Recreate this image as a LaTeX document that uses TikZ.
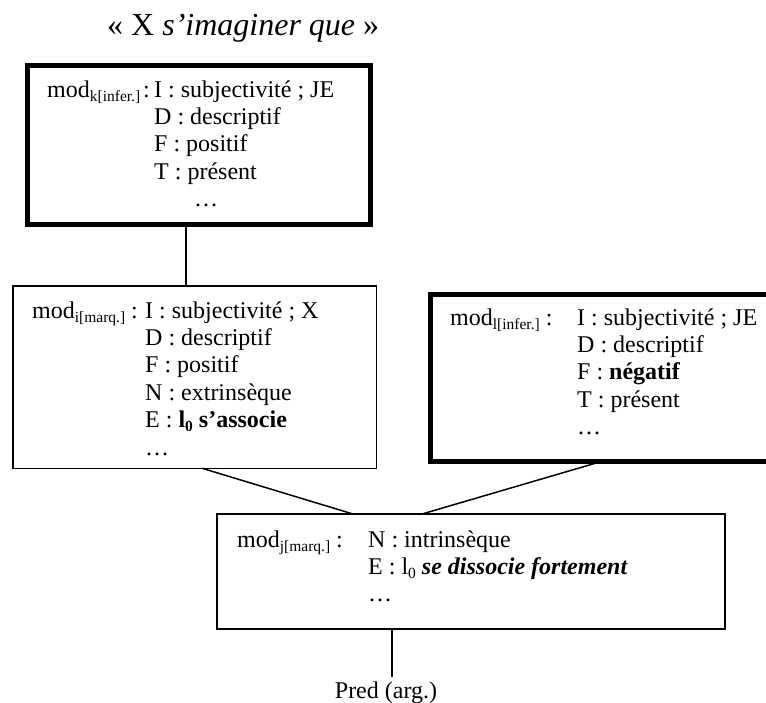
\documentclass[tikz,border=0pt]{standalone}
\usepackage{fontspec}
\setmainfont{Liberation Serif}
\newcommand{\subs}[1]{\raisebox{-4pt}{\fontsize{15.5}{16}\selectfont #1}}
\begin{document}
\begin{tikzpicture}[x=1pt,y=-1pt,
  thinbox/.style={draw, line width=1.5pt, rectangle, inner sep=0pt, outer sep=0pt},
  thickbox/.style={draw, line width=5pt, rectangle, inner sep=0pt, outer sep=0pt},
  conn/.style={line width=1.5pt},
  boxtext/.style={anchor=base west, inner sep=0pt, font=\fontsize{24}{27.4}\selectfont, align=left}
]
\useasboundingbox (0,0) rectangle (766,702);
\clip (0,0) rectangle (766,702);

% title
\node[anchor=base west, inner sep=0pt, font=\fontsize{32}{36}\selectfont] (title) at (107,35) {« X \textit{s’imaginer que} »};

% boxes
\node[thickbox, minimum width=343pt, minimum height=159pt] (k) at (199,145) {};
\node[thinbox, minimum width=363.5pt, minimum height=182.5pt] (i) at (194.5,377) {};
\node[thickbox, minimum width=340pt, minimum height=167pt] (l) at (600.5,377.5) {};
\node[thinbox, minimum width=508pt, minimum height=115pt] (j) at (471,571.5) {};

% texts
\node[boxtext] (kt) at (47,97) {\begin{tabular}[t]{@{}l@{}l@{}}
\makebox[107pt][l]{mod\subs{k[infer.]}\kern3pt:}& I : subjectivité ; JE\\
 & D : descriptif\\
 & F : positif\\
 & T : présent\\
 & \hspace{40pt}…
\end{tabular}};
\node[boxtext] (it) at (32,318) {\begin{tabular}[t]{@{}l@{}l@{}}
\makebox[113pt][l]{mod\subs{i[marq.]} :}& I : subjectivité ; X\\
 & D : descriptif\\
 & F : positif\\
 & N : extrinsèque\\
 & E : \textbf{l\subs{0} s’associe}\\
 & …
\end{tabular}};
\node[boxtext] (lt) at (450,325) {\begin{tabular}[t]{@{}l@{}l@{}}
\makebox[127pt][l]{mod\subs{l[infer.]} :}& I : subjectivité ; JE\\
 & D : descriptif\\
 & F : \textbf{négatif}\\
 & T : présent\\
 & …
\end{tabular}};
\node[boxtext] (jt) at (237,547) {\begin{tabular}[t]{@{}l@{}l@{}}
\makebox[131pt][l]{mod\subs{j[marq.]} :}& N : intrinsèque\\
 & E : l\subs{0} \textbf{\textit{se dissocie fortement}}\\
 & …
\end{tabular}};

\node[anchor=base, inner sep=0pt, font=\fontsize{24}{27}\selectfont] (pred) at (386,698) {Pred (arg.)};

% connector helper coordinates
\coordinate (cki) at (186,0);
\coordinate (cij1) at (202,0);
\coordinate (cij2) at (353,0);
\coordinate (clj1) at (603,0);
\coordinate (clj2) at (422,0);
\coordinate (cjp) at (392,0);
\coordinate (pend) at (392,677);

\draw[conn] (k.south -| cki) -- (i.north -| cki);
\draw[conn] (i.south -| cij1) -- (j.north -| cij2);
\draw[conn] (l.south -| clj1) -- (j.north -| clj2);
\draw[conn] (j.south -| cjp) -- (pend);
\end{tikzpicture}
\end{document}
